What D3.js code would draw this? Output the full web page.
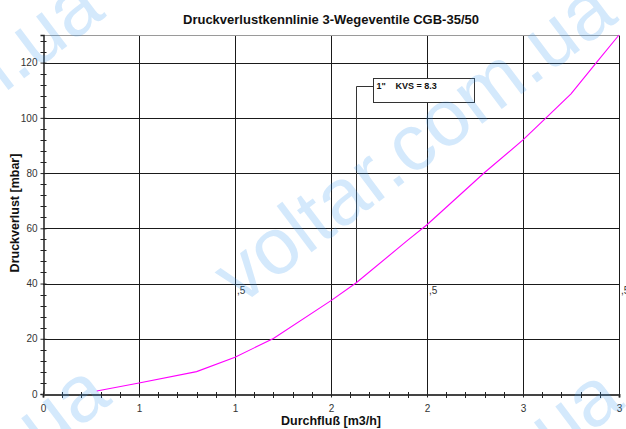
<!DOCTYPE html>
<html>
<head>
<meta charset="utf-8">
<script src="https://cdn.jsdelivr.net/npm/d3@7"></script>
<style>
  html, body { margin: 0; padding: 0; background: #fff; }
  svg { display: block; font-family: "Liberation Sans", Arial, sans-serif; }
</style>
</head>
<body>
<svg id="chart" width="626" height="429"></svg>
<script>
// Pressure-loss curve of the 3-way valve (1", Kvs 8.3)
const flow = [0.28, 0.5, 0.8, 1.0, 1.2, 1.5, 1.63, 1.9, 2.0, 2.3, 2.5, 2.62, 2.75, 2.88, 3.0];
const loss = [1.1, 4.0, 8.1, 13.3, 20.1, 33.8, 40.2, 55.7, 61.3, 80.2, 92.0, 100.0, 108.7, 119.8, 130.0];

const xTicks = [0, 0.5, 1.0, 1.5, 2.0, 2.5, 3.0];
const xTickLabels = ["0", "1", "1", "2", "2", "3", "3"];
const yTicks = [0, 20, 40, 60, 80, 100, 120];
const yTickLabels = ["0", "20", "40", "60", "80", "100", "120"];
const strayLabelFlows = [1.0, 2.0, 3.0];
const strayLabelText = ",5";
const strayLabelLoss = 40;

const annotationText = ["1\"", "KVS = 8.3"];
const annotationPoint = { flow: 1.63, loss: 40.2 };

const title = "Druckverlustkennlinie 3-Wegeventile CGB-35/50";
const xTitle = "Durchfluß [m3/h]";
const yTitle = "Druckverlust [mbar]";

const svg = d3.select("#chart");
const plotLeft = 43, plotRight = 619, plotTop = 35, plotBottom = 394;

const x = d3.scaleLinear().domain([0, 3]).range([plotLeft, plotRight]);
const y = d3.scaleLinear().domain([0, 130]).range([plotBottom, plotTop]);

// grid
const grid = svg.append("g");
grid.selectAll("line.v").data(xTicks.slice(1)).join("line")
  .attr("x1", d => Math.round(x(d)) + 0.5).attr("x2", d => Math.round(x(d)) + 0.5)
  .attr("y1", plotTop).attr("y2", plotBottom)
  .attr("stroke", "#1a1a1a").attr("stroke-width", 1);
grid.selectAll("line.h").data(yTicks.slice(1)).join("line")
  .attr("x1", plotLeft).attr("x2", plotRight)
  .attr("y1", d => Math.round(y(d)) + 0.5).attr("y2", d => Math.round(y(d)) + 0.5)
  .attr("stroke", "#1a1a1a").attr("stroke-width", 1);
// top border
svg.append("line").attr("x1", plotLeft).attr("x2", plotRight + 1)
  .attr("y1", plotTop + 0.5).attr("y2", plotTop + 0.5)
  .attr("stroke", "#9a9a9a").attr("stroke-width", 1);

// stray ",5" labels
svg.append("g").selectAll("text").data(strayLabelFlows).join("text")
  .attr("x", d => x(d) + 2).attr("y", y(strayLabelLoss) + 10)
  .attr("font-size", 10).attr("fill", "#333")
  .text(strayLabelText);

// y axis
const yAxis = d3.axisLeft(y).tickValues(yTicks)
  .tickFormat((d, i) => yTickLabels[i]).tickSize(3).tickPadding(4);
const gy = svg.append("g").attr("transform", `translate(${plotLeft + 0.5},0)`).call(yAxis);
gy.select(".domain").attr("stroke", "#222").attr("stroke-width", 1.5);
gy.selectAll(".tick line").attr("x2", -3).attr("x1", 3).attr("stroke", "#222");
gy.selectAll(".tick text").attr("font-size", 10).attr("fill", "#333")
  .attr("font-family", "Liberation Sans, Arial, sans-serif").attr("x", -6);
// minor y ticks
const yMinor = d3.range(0, 131, 4).filter(v => v % 20 !== 0);
svg.append("g").selectAll("line").data(yMinor).join("line")
  .attr("x1", plotLeft - 2.5).attr("x2", plotLeft + 3.5)
  .attr("y1", d => Math.round(y(d)) + 0.5).attr("y2", d => Math.round(y(d)) + 0.5)
  .attr("stroke", "#222");

// x axis
const xAxis = d3.axisBottom(x).tickValues(xTicks)
  .tickFormat((d, i) => xTickLabels[i]).tickSize(3).tickPadding(7);
const gx = svg.append("g").attr("transform", `translate(0,${plotBottom + 0.5})`).call(xAxis);
gx.select(".domain").attr("stroke", "#444").attr("stroke-width", 2);
gx.selectAll(".tick line").attr("y1", -3).attr("y2", 3).attr("stroke", "#222");
gx.selectAll(".tick text").attr("font-size", 10).attr("fill", "#333")
  .attr("font-family", "Liberation Sans, Arial, sans-serif");
const xMinor = d3.range(1, 30).filter(v => v % 5 !== 0).map(v => v / 10);
svg.append("g").selectAll("line").data(xMinor).join("line")
  .attr("x1", d => Math.round(x(d)) + 0.5).attr("x2", d => Math.round(x(d)) + 0.5)
  .attr("y1", plotBottom - 2).attr("y2", plotBottom + 4)
  .attr("stroke", "#222");

// annotation leader and box
const ax = Math.round(x(annotationPoint.flow)) + 0.5;
const boxX = 373.5, boxY = 78.5, boxW = 101, boxH = 24;
svg.append("path")
  .attr("d", `M${ax},${y(annotationPoint.loss)} V${boxY + 8} H${boxX}`)
  .attr("fill", "none").attr("stroke", "#333").attr("stroke-width", 1);
svg.append("rect").attr("x", boxX).attr("y", boxY).attr("width", boxW).attr("height", boxH)
  .attr("fill", "#fff").attr("stroke", "#333").attr("stroke-width", 1);
svg.append("text").attr("x", boxX + 3).attr("y", boxY + 10)
  .attr("font-size", 9).attr("font-weight", "bold").attr("fill", "#111")
  .text(annotationText[0]);
svg.append("text").attr("x", boxX + 22).attr("y", boxY + 10)
  .attr("font-size", 9).attr("font-weight", "bold").attr("fill", "#111")
  .text(annotationText[1]);

// curve
const pts = flow.map((f, i) => [f, loss[i]]);
svg.append("path").datum(pts)
  .attr("d", d3.line().x(d => x(d[0])).y(d => y(d[1])))
  .attr("fill", "none").attr("stroke", "#ff00ff").attr("stroke-width", 1.1);

// titles
svg.append("text").attr("x", 331).attr("y", 24).attr("text-anchor", "middle")
  .attr("font-size", 13).attr("font-weight", "bold").attr("fill", "#111").text(title);
svg.append("text").attr("x", 331).attr("y", 425).attr("text-anchor", "middle")
  .attr("font-size", 12.5).attr("font-weight", "bold").attr("fill", "#111").text(xTitle);
svg.append("text").attr("transform", "translate(19,213) rotate(-90)").attr("text-anchor", "middle")
  .attr("font-size", 12.5).attr("font-weight", "bold").attr("fill", "#111").text(yTitle);

// site watermark
const wm = svg.append("g").attr("opacity", 0.22).attr("pointer-events", "none");
const ang = -37 * Math.PI / 180;
const u = [Math.cos(ang), Math.sin(ang)], n = [-Math.sin(ang), Math.cos(ang)];
const origin = [240, 280];
for (let k = -2; k <= 2; k++) {
  for (let j = -2; j <= 2; j++) {
    const along = j * 634 - 227 * k - 16, perp = k * 312 + 21;
    const px = origin[0] + along * u[0] + perp * n[0];
    const py = origin[1] + along * u[1] + perp * n[1];
    wm.append("text")
      .attr("transform", `translate(${px},${py}) rotate(-37)`)
      .attr("font-size", 80).attr("fill", "#3d9bf0")
      .text("voltar.com.ua");
  }
}
</script>
</body>
</html>
